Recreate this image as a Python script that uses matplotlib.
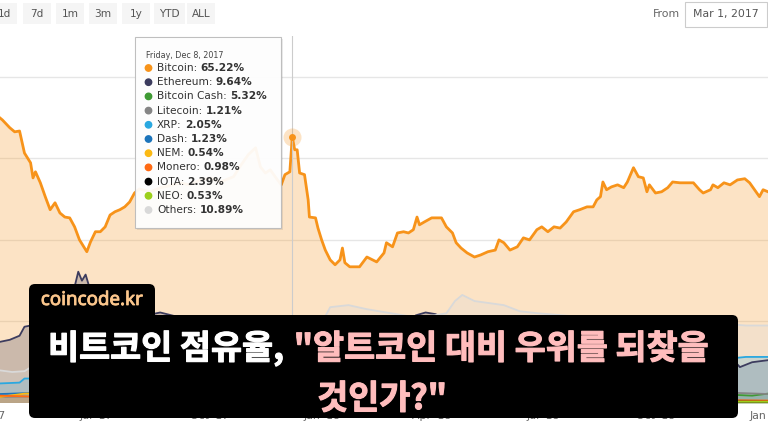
import datetime as dt
import matplotlib
matplotlib.use("Agg")
import matplotlib.pyplot as plt
import matplotlib.transforms as mtransforms
import matplotlib.patheffects as pe
from matplotlib.patches import FancyBboxPatch, Rectangle, Circle

# ---------------- data (day offsets from 2017-04-13, dominance %) ----------------
START = dt.date(2017, 4, 13)

btc_day = [0, 2, 8, 12, 16, 20, 25, 27, 29, 33, 37, 41, 45, 49, 53, 57, 61, 65, 71, 74,
           78, 82, 86, 90, 94, 98, 102, 106, 110, 114, 123, 131, 139, 147, 155, 164, 172, 180,
           191, 196, 203, 209, 213, 217, 221, 225, 230, 233, 237, 239, 241, 243, 245, 249, 252,
           253, 258, 260, 263, 266, 270, 274, 278, 280, 282, 286, 294, 300, 308, 314, 316, 321,
           325, 330, 334, 338, 341, 343, 347, 353, 361, 365, 370, 373, 377, 382, 388, 393, 399,
           405, 408, 412, 417, 423, 428, 433, 439, 443, 448, 453, 458, 463, 469, 474, 480, 485,
           488, 491, 493, 496, 500, 505, 510, 513, 518, 522, 526, 529, 531, 536, 541, 546, 550,
           556, 563, 567, 572, 575, 581, 583, 587, 592, 597, 603, 609, 613, 617, 621, 624, 628]
btc_pct = [69.9, 69.4, 67.5, 66.5, 66.7, 61.3, 58.9, 55.2, 56.7, 54.0, 50.6, 47.4, 49.1, 46.6,
           45.6, 45.4, 43.2, 40.0, 37.1, 39.5, 42.0, 42.0, 43.2, 46.1, 46.9, 47.4, 48.1, 49.3,
           51.5, 52.5, 51.8, 52.8, 53.3, 54.0, 53.5, 54.7, 55.2, 54.2, 55.5, 57.9, 60.9, 62.6,
           57.9, 56.4, 57.2, 55.5, 53.5, 56.0, 56.7, 65.22, 62.1, 62.1, 56.4, 56.0, 49.8, 45.6,
           45.4, 42.9, 40.0, 37.5, 35.1, 33.9, 35.1, 38.0, 34.4, 33.4, 33.4, 35.8, 34.6, 36.8,
           39.3, 38.3, 41.7, 42.0, 41.7, 42.5, 45.6, 43.7, 44.4, 45.4, 45.4, 43.2, 41.7, 39.3,
           38.0, 36.8, 35.8, 36.3, 37.1, 37.5, 40.0, 39.3, 37.5, 38.3, 40.5, 40.0, 42.5, 43.2,
           42.0, 43.2, 42.9, 44.4, 46.9, 47.4, 48.1, 48.1, 49.8, 50.6, 54.2, 52.3, 53.0, 53.5,
           52.8, 54.2, 57.7, 55.5, 55.2, 51.8, 53.5, 51.5, 51.8, 52.8, 54.2, 54.0, 54.0, 54.0,
           52.3, 51.5, 52.3, 53.5, 52.8, 54.0, 53.5, 54.7, 55.0, 54.0, 52.3, 50.6, 52.3, 51.8]

eth_day = [0, 8, 16, 20, 25, 33, 41, 49, 57, 61, 64, 67, 70, 73, 78, 86, 94, 102, 110, 120, 131,
           147, 164, 180, 196, 213, 230, 239, 250, 260, 274, 290, 300, 314, 330, 340, 348, 356,
           362, 375, 390, 410, 430, 440, 455, 470, 485, 500, 520, 540, 560, 580, 600, 605, 615, 628]
eth_pct = [15.0, 15.5, 16.5, 18.7, 19.0, 22.0, 24.0, 26.0, 27.5, 28.5, 32.2, 30.0, 31.5, 28.5,
           27.0, 25.0, 22.5, 21.0, 21.3, 21.5, 22.2, 21.0, 20.5, 17.0, 15.0, 14.0, 12.0, 9.64,
           12.0, 13.0, 18.5, 20.0, 17.0, 18.0, 19.0, 21.5, 22.2, 21.8, 21.0, 19.0, 18.0, 18.5,
           20.0, 19.0, 16.0, 14.0, 13.0, 12.0, 11.0, 12.5, 14.0, 12.5, 10.5, 8.8, 10.0, 10.5]

bch_day = [110, 115, 125, 140, 160, 180, 195, 205, 210, 213, 216, 222, 230, 239, 250, 265, 280,
           300, 330, 360, 400, 450, 500, 550, 580, 600, 615, 628]
bch_pct = [7.0, 9.0, 6.0, 5.0, 5.5, 7.0, 9.0, 11.0, 17.0, 15.0, 12.0, 10.0, 8.0, 5.32, 7.0, 8.0,
           7.0, 6.0, 5.0, 5.0, 5.0, 6.5, 4.5, 4.0, 3.0, 2.0, 1.8, 2.3]

ltc_day = [0, 30, 60, 90, 120, 150, 180, 210, 230, 239, 250, 270, 300, 350, 400, 450, 500, 550,
           600, 628]
ltc_pct = [1.5, 1.6, 2.3, 2.2, 2.5, 2.6, 2.4, 2.0, 2.5, 1.21, 2.6, 2.2, 2.5, 2.6, 2.8, 2.5, 2.3,
           2.5, 2.5, 2.2]

xrp_day = [0, 16, 20, 24, 30, 38, 45, 52, 60, 75, 90, 120, 150, 180, 210, 230, 239, 250, 258,
           266, 272, 280, 290, 310, 340, 380, 420, 460, 500, 520, 540, 560, 580, 600, 610, 628]
xrp_pct = [4.8, 5.0, 6.0, 6.0, 9.0, 12.0, 11.0, 9.0, 8.0, 7.0, 6.5, 6.5, 6.0, 5.0, 4.0, 3.0,
           2.05, 5.0, 10.0, 13.0, 14.0, 11.0, 10.0, 9.0, 8.5, 8.0, 9.0, 8.5, 8.5, 9.0, 10.0,
           10.0, 9.5, 11.0, 11.3, 11.3]

dash_day = [0, 30, 60, 120, 180, 230, 239, 260, 300, 400, 500, 600, 628]
dash_pct = [2.2, 2.5, 2.5, 2.4, 2.2, 2.0, 1.23, 1.4, 1.3, 1.2, 0.9, 0.6, 0.5]

nem_day = [0, 20, 40, 60, 80, 120, 200, 230, 239, 260, 275, 300, 400, 500, 628]
nem_pct = [1.5, 2.3, 2.5, 2.0, 1.5, 1.3, 1.0, 0.9, 0.54, 1.2, 1.7, 1.3, 0.6, 0.5, 0.4]

xmr_day = [0, 60, 120, 180, 239, 270, 300, 400, 500, 628]
xmr_pct = [1.8, 1.3, 1.4, 1.5, 0.98, 1.1, 1.2, 1.1, 1.0, 0.6]

iota_day = [60, 75, 90, 120, 180, 230, 239, 250, 270, 300, 400, 500, 628]
iota_pct = [3.0, 2.2, 1.5, 1.3, 1.0, 2.8, 2.39, 2.5, 1.5, 0.8, 0.8, 0.5, 0.3]

neo_day = [100, 130, 160, 200, 239, 260, 290, 330, 400, 500, 628]
neo_pct = [0.8, 1.3, 1.5, 1.1, 0.53, 1.2, 1.3, 1.2, 0.8, 0.5, 0.3]

oth_day = [0, 10, 20, 28, 45, 60, 90, 120, 150, 180, 210, 225, 239, 250, 262, 270, 285, 300,
           320, 340, 355, 365, 372, 378, 388, 400, 412, 425, 440, 460, 480, 500, 530, 560, 590,
           610, 628]
oth_pct = [8.0, 7.6, 7.8, 9.3, 10.5, 11.0, 12.0, 12.5, 13.0, 13.5, 12.0, 12.5, 10.89, 14.0,
           19.0, 23.5, 24.0, 23.0, 22.0, 21.0, 21.5, 22.0, 25.0, 26.5, 25.0, 24.5, 24.0, 22.5,
           22.0, 21.5, 21.0, 20.5, 20.0, 19.5, 19.5, 19.0, 19.0]

series_names = ["Bitcoin", "Ethereum", "Bitcoin Cash", "Litecoin", "XRP", "Dash", "NEM",
                "Monero", "IOTA", "NEO", "Others"]
series_colors = ["#f7931a", "#3c3c5e", "#3f9a34", "#858585", "#2aa8e0", "#1c74bb", "#fbb913",
                 "#ff6a13", "#000000", "#9ccf1b", "#d9d9d9"]
series_data = [(btc_day, btc_pct), (eth_day, eth_pct), (bch_day, bch_pct), (ltc_day, ltc_pct),
               (xrp_day, xrp_pct), (dash_day, dash_pct), (nem_day, nem_pct), (xmr_day, xmr_pct),
               (iota_day, iota_pct), (neo_day, neo_pct), (oth_day, oth_pct)]

tip_date = "Friday, Dec 8, 2017"
tip_day = 239
tip_values = [65.22, 9.64, 5.32, 1.21, 2.05, 1.23, 0.54, 0.98, 2.39, 0.53, 10.89]

tick_dates = [dt.date(2017, 4, 1), dt.date(2017, 7, 1), dt.date(2017, 10, 1), dt.date(2018, 1, 1),
              dt.date(2018, 4, 1), dt.date(2018, 7, 1), dt.date(2018, 10, 1), dt.date(2019, 1, 1)]
tick_labels = ["Apr '17", "Jul '17", "Oct '17", "Jan '18", "Apr '18", "Jul '18", "Oct '18", "Jan '19"]

buttons = ["1d", "7d", "1m", "3m", "1y", "YTD", "ALL"]
from_date = "Mar 1, 2017"

title_white = "비트코인 점유율,"
title_pink1 = "\"알트코인 대비 우위를 되찾을"
title_pink2 = "것인가?\""
brand = "coincode.kr"


def to_dates(days):
    return [START + dt.timedelta(days=d) for d in days]


# ---------------- figure ----------------
W, H = 768, 432
fig = plt.figure(figsize=(W / 100, H / 100), dpi=100)
px = mtransforms.Affine2D().scale(1 / W, -1 / H).translate(0, 1) + fig.transFigure

ax = fig.add_axes([0, (H - 403) / H, 1, (403 - 36) / H])
ax.set_xlim(START, START + dt.timedelta(days=628))
ax.set_ylim(0, 90)
for s in ax.spines.values():
    s.set_visible(False)
ax.set_yticks([20, 40, 60, 80])
ax.yaxis.grid(True, color="#e6e6e6", linewidth=1)
ax.set_axisbelow(True)
ax.tick_params(axis="y", length=0, labelleft=False)
ax.set_xticks([])
ax.axhline(0, color="#ccd6eb", linewidth=1, zorder=1)

for i, ((days, vals), col) in enumerate(zip(series_data, series_colors)):
    d = to_dates(days)
    ax.fill_between(d, 0, vals, color=col, alpha=0.25, linewidth=0, zorder=2 + i * 0.1)
    ax.plot(d, vals, color=col, linewidth=2.0 if i == 0 else 1.3, zorder=3 + i * 0.1,
            solid_joinstyle="round")

# crosshair + highlighted point
tip_x = START + dt.timedelta(days=tip_day)
ax.axvline(tip_x, color="#cccccc", linewidth=0.8, zorder=5)
ax.plot([tip_x], [tip_values[0]], "o", ms=13, color="#f7931a", alpha=0.25, mec="none", zorder=6)
ax.plot([tip_x], [tip_values[0]], "o", ms=5, color="#f7931a", mec="none", zorder=7)

# x tick labels
btr = mtransforms.blended_transform_factory(ax.transData, px)
for td, tl in zip(tick_dates, tick_labels):
    ax.text(td, 416, tl, transform=btr, ha="center", va="center", fontsize=7.8,
            color="#666666", clip_on=False)

# ---------------- top controls ----------------
btn_x = [-11, 23, 56, 89, 122, 154, 187]
btn_w = [28, 28, 28, 28, 28, 31, 28]
for b, x0, w in zip(buttons, btn_x, btn_w):
    fig.add_artist(Rectangle((x0, 3), w, 21, transform=px, facecolor="#f5f5f5",
                             edgecolor="none"))
    cx = x0 + w / 2 if x0 >= 0 else 5
    fig.text(cx, 14, b, transform=px, ha="center", va="center", fontsize=7.6, color="#555555")
fig.text(666, 14, "From", transform=px, ha="center", va="center", fontsize=7.8, color="#666666")
fig.add_artist(Rectangle((685, 1.5), 81.5, 25, transform=px, facecolor="white",
                         edgecolor="#cccccc", linewidth=0.8))
fig.text(726, 14, from_date, transform=px, ha="center", va="center", fontsize=7.8,
         color="#555555")

# ---------------- tooltip ----------------
fig.add_artist(Rectangle((137, 39), 146, 191, transform=px, facecolor="black", alpha=0.08,
                         edgecolor="none"))
fig.add_artist(Rectangle((135, 37), 146, 191, transform=px, facecolor="white", alpha=0.94,
                         edgecolor="#bbbbbb", linewidth=0.8))
fig.text(146, 55, tip_date, transform=px, ha="left", va="center", fontsize=5.8, color="#444444")

renderer = fig.canvas.get_renderer()
for i, (nm, v, col) in enumerate(zip(series_names, tip_values, series_colors)):
    y = 68 + i * 14.2
    fig.add_artist(Circle((148.5, y), 3.2, transform=px, color=col))
    t = fig.text(157, y, nm + ":", transform=px, ha="left", va="center", fontsize=7.6,
                 color="#333333")
    bb = t.get_window_extent(renderer)
    fig.text(157 + bb.width + 3.2, y, f"{v:.2f}%", transform=px, ha="left", va="center",
             fontsize=7.6, color="#333333", fontweight="bold")

# ---------------- banner ----------------
fig.add_artist(FancyBboxPatch((29, 284), 126, 40, transform=px,
                              boxstyle="round,pad=0,rounding_size=6",
                              facecolor="black", edgecolor="none"))
fig.add_artist(FancyBboxPatch((29, 315), 709, 103, transform=px,
                              boxstyle="round,pad=0,rounding_size=6",
                              facecolor="black", edgecolor="none"))
fig.text(92, 300, brand, transform=px, ha="center", va="center", fontsize=13.5,
         fontweight="bold", color="#fbc68c", family=["Noto Sans", "DejaVu Sans"],
         path_effects=[pe.withStroke(linewidth=0.6, foreground="#fbc68c")])

kfont = dict(family=["Noto Sans CJK KR", "DejaVu Sans"], fontweight="black", fontsize=24.3)
white_fx = [pe.withStroke(linewidth=0.8, foreground="white")]
pink_fx = [pe.withStroke(linewidth=0.8, foreground="#ffbdbd")]
tw = fig.text(0, 359, title_white, transform=px, ha="left", va="baseline", color="white",
              path_effects=white_fx, **kfont)
tp = fig.text(0, 359, title_pink1, transform=px, ha="left", va="baseline", color="#ffbdbd",
              path_effects=pink_fx, **kfont)
w1 = tw.get_window_extent(renderer).width
w2 = tp.get_window_extent(renderer).width
gap = 10
x0 = 378 - (w1 + gap + w2) / 2
tw.set_x(x0)
tp.set_x(x0 + w1 + gap)
fig.text(382, 409, title_pink2, transform=px, ha="center", va="baseline", color="#ffbdbd",
         path_effects=pink_fx, **kfont)

fig.savefig("out.png", dpi=100)
